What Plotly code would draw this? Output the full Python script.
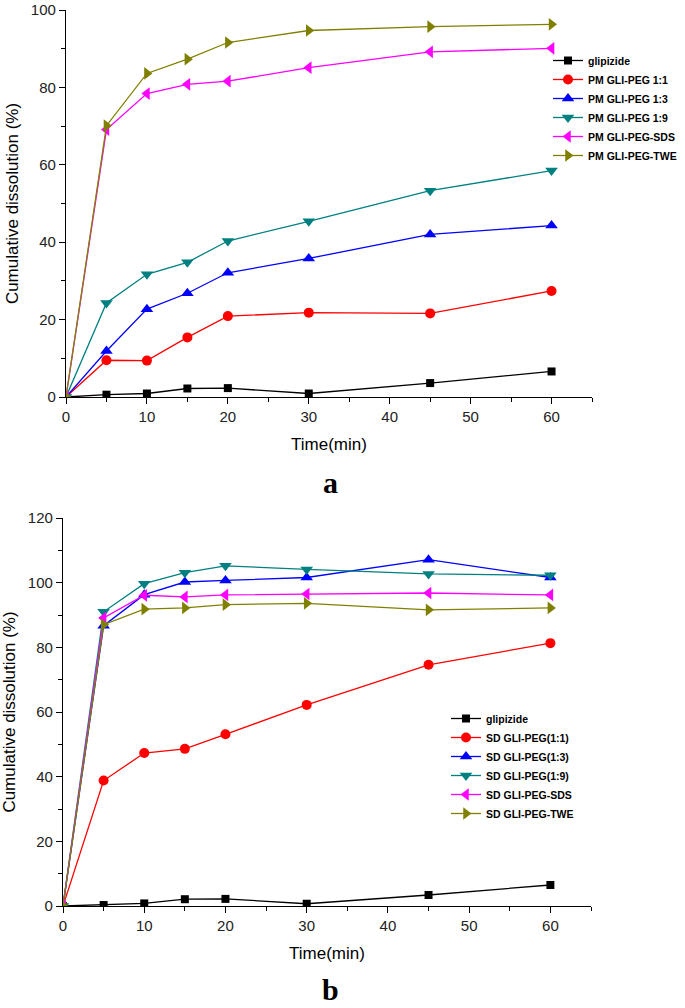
import plotly.graph_objects as go

time_min = [0, 5, 10, 15, 20, 30, 45, 60]

# Panel a: physical mixtures
names_a = ["glipizide", "PM GLI-PEG 1:1", "PM GLI-PEG 1:3", "PM GLI-PEG 1:9",
           "PM GLI-PEG-SDS", "PM GLI-PEG-TWE"]
glipizide_a = [0, 0.6, 0.9, 2.2, 2.3, 0.9, 3.6, 6.6]
pm_11 = [0, 9.5, 9.4, 15.4, 20.9, 21.8, 21.6, 27.4]
pm_13 = [0, 11.9, 22.7, 26.8, 32.1, 35.8, 42.0, 44.3]
pm_19 = [0, 24.3, 31.7, 34.8, 40.3, 45.4, 53.3, 58.5]
pm_sds = [0, 69.1, 78.4, 80.8, 81.6, 85.1, 89.2, 90.1]
pm_twe = [0, 70.1, 83.6, 87.3, 91.6, 94.7, 95.7, 96.3]

# Panel b: solid dispersions
names_b = ["glipizide", "SD GLI-PEG(1:1)", "SD GLI-PEG(1:3)", "SD GLI-PEG(1:9)",
           "SD GLI-PEG-SDS", "SD GLI-PEG-TWE"]
glipizide_b = [0, 0.3, 0.8, 2.1, 2.2, 0.7, 3.4, 6.5]
sd_11 = [0, 38.8, 47.3, 48.6, 53.1, 62.2, 74.6, 81.3]
sd_13 = [0, 86.7, 96.3, 100.2, 100.7, 101.6, 107.1, 101.6]
sd_19 = [0, 91.0, 99.7, 103.1, 105.2, 104.1, 102.7, 102.3]
sd_sds = [0, 89.1, 96.1, 95.6, 96.2, 96.5, 96.8, 96.2]
sd_twe = [0, 87.0, 91.8, 92.2, 93.2, 93.6, 91.6, 92.2]

colors = ["#000000", "#ff0000", "#0000ff", "#008080", "#ff00ff", "#808000"]
symbols = ["square", "circle", "triangle-up", "triangle-down", "triangle-left", "triangle-right"]
sizes = [8, 10, 11, 11, 11, 11]

FONT = "Liberation Sans, Arial, sans-serif"

fig = go.Figure()

series_a = [glipizide_a, pm_11, pm_13, pm_19, pm_sds, pm_twe]
series_b = [glipizide_b, sd_11, sd_13, sd_19, sd_sds, sd_twe]

for i, (nm, ys) in enumerate(zip(names_a, series_a)):
    fig.add_trace(go.Scatter(
        x=time_min, y=ys, name=nm, mode="lines+markers",
        line=dict(color=colors[i], width=1.3),
        marker=dict(symbol=symbols[i], size=sizes[i], color=colors[i]),
        xaxis="x", yaxis="y", legend="legend"))

for i, (nm, ys) in enumerate(zip(names_b, series_b)):
    fig.add_trace(go.Scatter(
        x=time_min, y=ys, name=nm, mode="lines+markers",
        line=dict(color=colors[i], width=1.3),
        marker=dict(symbol=symbols[i], size=sizes[i], color=colors[i]),
        xaxis="x2", yaxis="y2", legend="legend2"))

W, H = 685, 1008

def axis_common():
    return dict(
        showline=True, linecolor="#000", linewidth=1.3, automargin=False,
        ticks="outside", ticklen=6, tickwidth=1.2, tickcolor="#000",
        showgrid=False, zeroline=False, mirror=False,
        tickfont=dict(family=FONT, size=15, color="#222"),
        title_font=dict(family=FONT, size=17, color="#000"),
    )

xa = axis_common()
xa.update(domain=[66 / W, 592 / W], range=[0, 65], dtick=10, tick0=0, anchor="y",
          minor=dict(ticks="outside", dtick=5, ticklen=4, tickcolor="#000", tickwidth=1.2),
          title=dict(text="Time(min)", standoff=13))
ya = axis_common()
ya.update(domain=[1 - 397 / H, 1 - 10 / H], range=[0, 100], dtick=20, tick0=0, anchor="x",
          minor=dict(ticks="outside", dtick=10, ticklen=4, tickcolor="#000", tickwidth=1.2),
          title=dict(text="Cumulative dissolution (%)", standoff=7))

xb = axis_common()
xb.update(domain=[63 / W, 591 / W], range=[0, 65], dtick=10, tick0=0, anchor="y2",
          minor=dict(ticks="outside", dtick=5, ticklen=4, tickcolor="#000", tickwidth=1.2),
          title=dict(text="Time(min)", standoff=13))
yb = axis_common()
yb.update(domain=[1 - 906 / H, 1 - 518 / H], range=[0, 120], dtick=20, tick0=0, anchor="x2",
          minor=dict(ticks="outside", dtick=10, ticklen=4, tickcolor="#000", tickwidth=1.2),
          title=dict(text="Cumulative dissolution (%)", standoff=7))

legend_font = dict(family=FONT, size=10.5, color="#000", weight="bold")

fig.update_layout(
    width=W, height=H,
    margin=dict(l=0, r=0, t=0, b=0),
    paper_bgcolor="white", plot_bgcolor="white",
    font=dict(family=FONT),
    xaxis=xa, yaxis=ya, xaxis2=xb, yaxis2=yb,
    legend=dict(x=548 / W, y=1 - 46 / H, xanchor="left", yanchor="top",
                bgcolor="rgba(0,0,0,0)", font=legend_font, itemwidth=30,
                tracegroupgap=0),
    legend2=dict(x=446 / W, y=1 - 704 / H, xanchor="left", yanchor="top",
                 bgcolor="rgba(0,0,0,0)", font=legend_font, itemwidth=30,
                 tracegroupgap=0),
    annotations=[
        dict(text="<b>a</b>", x=330 / W, y=1 - 482 / H, xref="paper", yref="paper",
             showarrow=False, xanchor="center", yanchor="middle",
             font=dict(family="Liberation Serif, Times New Roman, serif", size=30, color="#000")),
        dict(text="<b>b</b>", x=330 / W, y=1 - 989 / H, xref="paper", yref="paper",
             showarrow=False, xanchor="center", yanchor="middle",
             font=dict(family="Liberation Serif, Times New Roman, serif", size=30, color="#000")),
    ],
    showlegend=True,
)

fig.write_html("out.html", config={"displayModeBar": False},
               post_script="document.body.style.margin='0';")
